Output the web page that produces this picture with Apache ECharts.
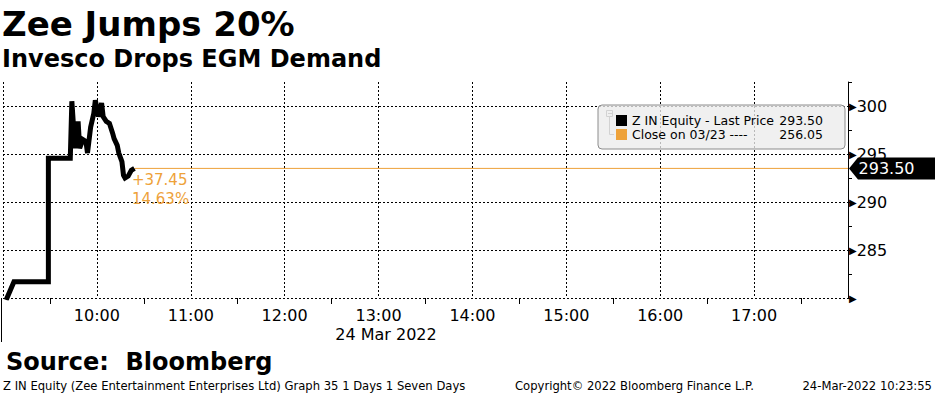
<!DOCTYPE html>
<html><head><meta charset="utf-8">
<script src="https://cdn.jsdelivr.net/npm/echarts@6/dist/echarts.min.js"></script>
<style>html,body{margin:0;padding:0;background:#fff}#c{width:935px;height:396px}</style>
</head><body><div id="c"></div>
<script>
// ---- text ----
const titleText = 'Zee Jumps 20%';
const subtitleText = 'Invesco Drops EGM Demand';
const sourceText = 'Source:  Bloomberg';
const footerLeft = 'Z IN Equity (Zee Entertainment Enterprises Ltd) Graph 35 1 Days 1 Seven Days';
const footerMid = 'Copyright\u00a9 2022 Bloomberg Finance L.P.';
const footerRight = '24-Mar-2022 10:23:55';
const dateLabel = '24 Mar 2022';
const seriesNames = ['Z IN Equity - Last Price', 'Close on 03/23 ----'];

// ---- data (intraday, 24 Mar 2022) ----
const times = ['09:02','09:07','09:29','09:29','09:43','09:44','09:46','09:48','09:49','09:51',
               '09:53','09:54','09:56','09:58','09:59','10:01','10:03','10:04','10:06','10:08',
               '10:10','10:11','10:13','10:14','10:16','10:17','10:18','10:20','10:22','10:24'];
const prices = [279.8, 281.7, 281.7, 294.55, 294.55, 300.5, 295.6, 298.4, 295.6, 296.5,
                296.3, 295.1, 297.8, 299.2, 300.6, 298.9, 300.3, 298.9, 298.4, 298.2,
                297.2, 296.6, 295.9, 295.1, 294.2, 292.8, 292.5, 292.7, 293.3, 293.5];
const prevClose = 256.05;

// ---- axes ----
const xStart = '09:00', xEnd = '18:00';
const xTickHours = [10, 11, 12, 13, 14, 15, 16, 17];
const yMin = 280, yMax = 302.5;
const yArrowTicks = [280, 285, 290, 295, 300];
const yLabelTicks = [285, 290, 295, 300];

const toMin = s => { const [h, m] = s.split(':').map(Number); return h * 60 + m; };
const lineData = times.map((t, i) => [toMin(t), prices[i]]);
const last = prices[prices.length - 1];
const lastT = toMin(times[times.length - 1]);
const chg = last - prevClose;
const pct = chg / prevClose * 100;
const ORANGE = '#eea23a';
const FONT = 'DejaVu Sans';

const chart = echarts.init(document.getElementById('c'), null, {renderer: 'svg'});
chart.setOption({
  animation: false,
  backgroundColor: '#fff',
  grid: {left: 1, right: 87, top: 82, bottom: 98, containLabel: false},
  xAxis: {
    type: 'value', min: toMin(xStart), max: toMin(xEnd), interval: 60,
    axisLine: {show: false}, axisTick: {show: false},
    minorTick: {show: true, splitNumber: 2, length: 6, lineStyle: {color: '#000', width: 1}},
    minorSplitLine: {show: false},
    splitLine: {show: true, showMaxLine: false, lineStyle: {color: '#000', type: [2, 2], width: 1}},
    axisLabel: {
      margin: 9, color: '#000', fontFamily: FONT, fontSize: 16,
      formatter: v => xTickHours.includes(v / 60) ? (v / 60) + ':00' : ''
    }
  },
  yAxis: [{
    type: 'value', position: 'right', min: yMin, max: yMax, interval: 2.5,
    axisLine: {show: true, lineStyle: {color: '#000', width: 1}},
    axisTick: {show: true, length: 4, lineStyle: {color: '#000'}},
    splitLine: {show: false},
    axisLabel: {
      margin: 1, color: '#000',
      formatter: v => {
        if (!yArrowTicks.includes(v)) return '';
        return yLabelTicks.includes(v) ? '{a|\u25B6}{t|' + v + '}' : '{a|\u25B6}';
      },
      rich: {
        a: {fontSize: 10, fontFamily: FONT, color: '#000'},
        t: {fontSize: 16, fontFamily: FONT, color: '#000'}
      }
    }
  }, {
    type: 'value', position: 'right', min: yMin, max: yMax, interval: 5,
    axisLine: {show: false}, axisTick: {show: false}, axisLabel: {show: false},
    splitLine: {show: true, showMaxLine: false, lineStyle: {color: '#000', type: [2, 2], width: 1}}
  }],
  legend: {
    left: 598, top: 105, orient: 'vertical', selectedMode: false,
    padding: [9, 22, 8, 18], itemWidth: 11, itemHeight: 11, itemGap: 1,
    icon: 'rect',
    backgroundColor: 'rgba(236,236,236,0.78)', borderColor: '#8c8c8c', borderWidth: 1, borderRadius: 4,
    data: seriesNames,
    formatter: name => '{n|' + name + '}{v|' + (name === seriesNames[0] ? last.toFixed(2) : prevClose.toFixed(2)) + '}',
    textStyle: {
      color: '#000', fontFamily: FONT, fontSize: 12.5,
      rich: {
        n: {width: 147, fontSize: 12.5, fontFamily: FONT, lineHeight: 15, color: '#000'},
        v: {width: 44, align: 'right', fontSize: 12.5, fontFamily: FONT, lineHeight: 15, color: '#000'}
      }
    }
  },
  series: [{
    name: seriesNames[0], type: 'line', data: lineData, yAxisIndex: 0,
    showSymbol: false, symbol: 'none', clip: true,
    itemStyle: {color: '#000'},
    lineStyle: {color: '#000', width: 5, join: 'miter'},
    z: 5
  }, {
    name: seriesNames[1], type: 'line', yAxisIndex: 0,
    data: [[lastT, last], [toMin(xEnd), last]],
    showSymbol: false, symbol: 'none',
    itemStyle: {color: ORANGE},
    lineStyle: {color: ORANGE, width: 1},
    z: 4,
    markPoint: {
      silent: true,
      data: [{
        coord: [lastT, last], symbol: 'rect', symbolSize: 1,
        itemStyle: {color: 'rgba(0,0,0,0)'},
        label: {
          show: true, position: [-2, 3], align: 'left', verticalAlign: 'top',
          color: ORANGE, fontFamily: FONT, fontSize: 15, lineHeight: 19,
          formatter: () => (chg >= 0 ? '+' : '') + chg.toFixed(2) + '\n' + pct.toFixed(2) + '%'
        }
      }, {
        coord: [toMin(xEnd), last],
        symbol: 'path://M0,11 L9,0 L87,0 L87,22 L9,22 Z', symbolSize: [87, 22], symbolOffset: [44.5, 0],
        itemStyle: {color: '#000'},
        label: {
          show: true, position: 'inside', offset: [-6, 0],
          color: '#fff', fontFamily: FONT, fontSize: 16,
          formatter: () => last.toFixed(2)
        }
      }]
    }
  }],
  graphic: [
    {type: 'text', style: {text: titleText, x: 2, y: 24, font: 'bold 34px "DejaVu Sans"', fill: '#000', verticalAlign: 'middle'}},
    {type: 'text', style: {text: subtitleText, x: 2, y: 58.5, font: 'bold 24px "DejaVu Sans"', fill: '#000', verticalAlign: 'middle'}},
    {type: 'text', style: {text: dateLabel, x: 386, y: 334, font: '16px "DejaVu Sans"', fill: '#000', align: 'center', verticalAlign: 'middle'}},
    {type: 'text', style: {text: sourceText, x: 6, y: 361.5, font: 'bold 24px "DejaVu Sans"', fill: '#000', verticalAlign: 'middle'}},
    {type: 'text', style: {text: footerLeft, x: 3, y: 386, font: '11.6px "DejaVu Sans"', fill: '#000', verticalAlign: 'middle'}},
    {type: 'text', style: {text: footerMid, x: 515, y: 386, font: '11.6px "DejaVu Sans"', fill: '#000', verticalAlign: 'middle'}},
    {type: 'text', style: {text: footerRight, x: 932, y: 386, font: '11.6px "DejaVu Sans"', fill: '#000', align: 'right', verticalAlign: 'middle'}},
    {type: 'line', shape: {x1: 1.5, y1: 298, x2: 1.5, y2: 342}, style: {stroke: '#000', lineWidth: 1}},
    {type: 'rect', shape: {x: 606.5, y: 110.5, width: 6, height: 6}, style: {fill: 'none', stroke: '#777', lineWidth: 1}},
    {type: 'line', shape: {x1: 608, y1: 113.5, x2: 612, y2: 113.5}, style: {stroke: '#777', lineWidth: 1}},
    {type: 'polyline', shape: {points: [[609.5, 117], [609.5, 134.5], [614, 134.5]]}, style: {fill: 'none', stroke: '#777', lineWidth: 1}}
  ]
});
</script>
</body></html>
